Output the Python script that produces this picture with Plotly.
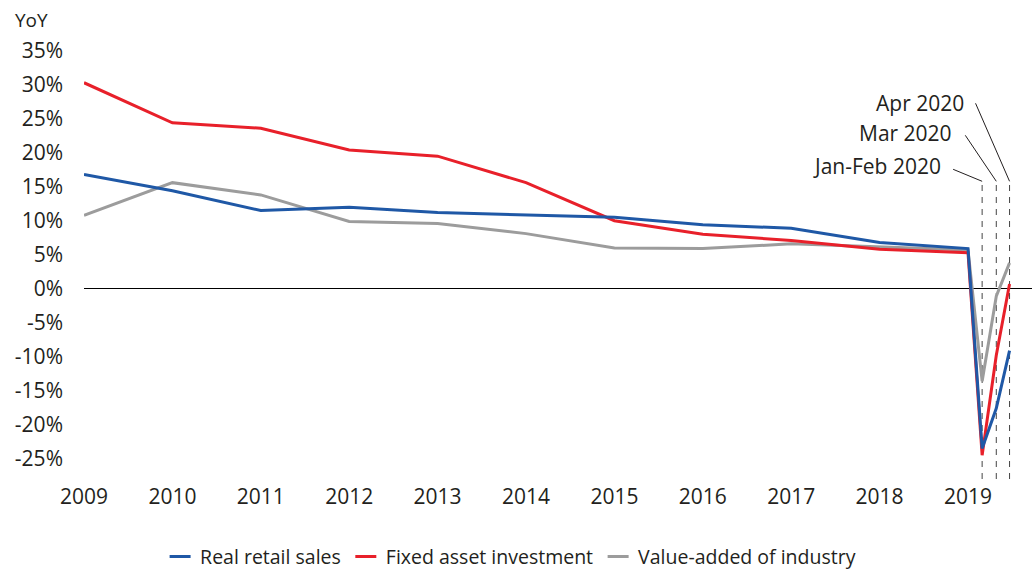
import plotly.graph_objects as go

years = [2009, 2010, 2011, 2012, 2013, 2014, 2015, 2016, 2017, 2018, 2019]
retail_annual = [16.8, 14.4, 11.5, 12.0, 11.2, 10.8, 10.5, 9.4, 8.9, 6.8, 5.9]
fai_annual = [30.3, 24.4, 23.6, 20.4, 19.5, 15.6, 10.0, 8.0, 7.1, 5.8, 5.3]
industry_annual = [10.8, 15.6, 13.8, 9.9, 9.6, 8.1, 6.0, 5.9, 6.6, 6.1, 5.7]

month_labels = ["Jan-Feb 2020", "Mar 2020", "Apr 2020"]
month_x = [2019.16, 2019.32, 2019.47]
retail_monthly = [-23.5, -17.6, -9.1]
fai_monthly = [-24.5, -9.8, 0.7]
industry_monthly = [-13.6, -1.1, 3.8]

series_names = ["Real retail sales", "Fixed asset investment", "Value-added of industry"]
y_tickvals = [-25, -20, -15, -10, -5, 0, 5, 10, 15, 20, 25, 30, 35]
y_ticktext = ["-25%", "-20%", "-15%", "-10%", "-5%", "0%", "5%", "10%", "15%", "20%", "25%", "30%", "35%"]
x_tickvals = years
x_ticktext = [str(y) for y in years]

BLUE = "#1f58a6"
RED = "#e8202a"
GRAY = "#9c9c9c"
TEXT = "#231f20"
FONT = "Open Sans"

x_all = years + month_x
fig = go.Figure()
for name, ann, mon, col in [
    (series_names[2], industry_annual, industry_monthly, GRAY),
    (series_names[1], fai_annual, fai_monthly, RED),
    (series_names[0], retail_annual, retail_monthly, BLUE),
]:
    fig.add_trace(go.Scatter(x=x_all, y=ann + mon, mode="lines", name=name,
                             line=dict(color=col, width=3), showlegend=False,
                             hoverinfo="skip"))

# legend entries (short line symbols)
for name, col in [(series_names[0], BLUE), (series_names[1], RED), (series_names[2], GRAY)]:
    fig.add_trace(go.Scatter(x=[None], y=[None], mode="markers", name=name,
                             marker=dict(symbol="line-ew", size=15,
                                         line=dict(color=col, width=3))))

dash_top = 15.8
dash_bottom = -28
shapes = []
for mx in month_x:
    shapes.append(dict(type="line", xref="x", yref="y", x0=mx, x1=mx,
                       y0=dash_bottom, y1=dash_top,
                       line=dict(color="#444444", width=1, dash="6px,6px"), layer="below"))

leader_px = [(-29, 12), (-31, 46), (-34, 78)]
text_shift = [(-39, 15), (-42, 48), (-44, 78)]
annotations = []
for mx, lab, (lx, ly), (tx, ty) in zip(month_x, month_labels, leader_px, text_shift):
    shapes.append(dict(type="line", xref="x", yref="y",
                       xsizemode="pixel", xanchor=mx, x0=lx, x1=0,
                       ysizemode="pixel", yanchor=dash_top, y0=ly, y1=0,
                       line=dict(color=TEXT, width=1)))
    annotations.append(dict(x=mx, y=dash_top, xref="x", yref="y", text=lab,
                            showarrow=False, xanchor="right", yanchor="middle",
                            xshift=tx, yshift=ty,
                            font=dict(family=FONT, size=21, color=TEXT)))

annotations.append(dict(x=-0.075, y=1.055, xref="paper", yref="paper", text="YoY",
                        showarrow=False, xanchor="left", yanchor="middle",
                        font=dict(family=FONT, size=19, color=TEXT)))

fig.update_layout(
    width=1032, height=569,
    margin=dict(l=84, r=0, t=44, b=90, autoexpand=False),
    paper_bgcolor="white", plot_bgcolor="white",
    font=dict(family=FONT, color=TEXT),
    shapes=shapes, annotations=annotations,
    showlegend=True,
    legend=dict(orientation="h", xref="paper", yref="paper",
                x=0.45, y=-0.179, xanchor="center", yanchor="middle",
                font=dict(family=FONT, size=19.5, color=TEXT)),
    xaxis=dict(range=[2009, 2019.724], tickvals=x_tickvals, ticktext=x_ticktext,
               showgrid=False, zeroline=False, showline=False, ticks="",
               automargin=False, ticklabelstandoff=3,
               tickfont=dict(family=FONT, size=21, color=TEXT)),
    yaxis=dict(range=[-28, 36], tickvals=y_tickvals, ticktext=y_ticktext,
               showgrid=False, zeroline=True, zerolinecolor="black", zerolinewidth=1,
               showline=False, ticks="", ticklabelstandoff=20, automargin=False,
               tickfont=dict(family=FONT, size=21, color=TEXT)),
)

fig.write_html("out.html", config={"displayModeBar": False},
               post_script="document.body.style.margin='0';document.body.style.overflow='hidden';")
